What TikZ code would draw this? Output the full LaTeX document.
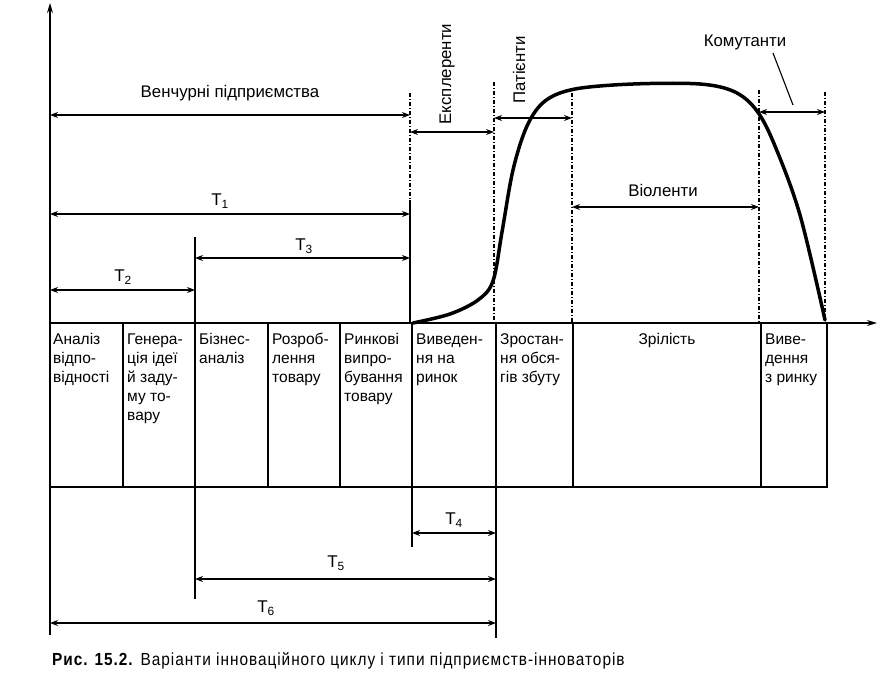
\documentclass[tikz,border=0pt]{standalone}
\usepackage{fontspec}
\setmainfont{Liberation Sans}
\newfontfamily\capfont[FakeStretch=0.88,LetterSpace=5.5]{Liberation Sans}
\usetikzlibrary{arrows.meta}
\newcommand{\fl}{\rule{0pt}{13pt}}
\begin{document}
\begin{tikzpicture}[x=1pt,y=-1pt,
  ln/.style={line width=1.2pt},
  dd/.style={line width=1.1pt, dash pattern=on 4pt off 2pt on 1pt off 2pt},
  dim/.style={line width=1.1pt, {Stealth[length=8pt,width=6pt]}-{Stealth[length=8pt,width=6pt]}},
  cell/.style={anchor=north west, align=left, inner sep=0pt, font=\fontsize{15.5}{19}\selectfont},
  lab/.style={inner sep=0pt, font=\fontsize{16.8}{19}\selectfont},
  tlab/.style={inner sep=0pt, font=\fontsize{17}{19}\selectfont},
  curve/.style={line width=3.5pt, line cap=round, line join=round}]
\useasboundingbox (0,0) rectangle (888,691);
\fill[white] (0,0) rectangle (888,691);

% key coordinates
\coordinate (ytop) at (50,3);
\coordinate (ybot) at (50,635);
\coordinate (xend) at (877,323);
\coordinate (o) at (50,323);

% axes
\draw[line width=1.4pt,-{Stealth[length=10pt,width=6pt]}] (ybot) -- (ytop);
\draw[line width=1.4pt,-{Stealth[length=10pt,width=6pt]}] (o) -- (xend);

% table
\draw[ln] (50,323) rectangle (827,487);
\foreach \xx in {123,195,268,340,412,496,573,761}
  \draw[ln] (\xx,323) -- (\xx,487);

% cell texts
\node[cell] (c1) at (53,331) {\fl Аналіз\\відпо-\\відності};
\node[cell] (c2) at (127,331) {\fl Генера-\\ція ідеї\\й заду-\\му то-\\вару};
\node[cell] (c3) at (199,331) {\fl Бізнес-\\аналіз};
\node[cell] (c4) at (272,331) {\fl Розроб-\\лення\\товару};
\node[cell] (c5) at (344,331) {\fl Ринкові\\випро-\\бування\\товару};
\node[cell] (c6) at (416,331) {\fl Виведен-\\ня на\\ринок};
\node[cell] (c7) at (500,331) {\fl Зростан-\\ня обся-\\гів збуту};
\node[cell,anchor=north] (c8) at (667,331) {\fl Зрілість};
\node[cell] (c9) at (765,331) {\fl Виве-\\дення\\з ринку};

% upper verticals
\coordinate (v1t) at (410,93);
\coordinate (v1m) at (410,200);
\coordinate (v1b) at (410,323);
\draw[dd] (v1t) -- (v1m);
\draw[ln] (v1m) -- (v1b);
\coordinate (v2t) at (494,82);
\coordinate (v2b) at (494,323);
\draw[dd] (v2t) -- (v2b);
\coordinate (v3t) at (572,93);
\coordinate (v3b) at (572,323);
\draw[dd] (v3t) -- (v3b);
\coordinate (v4t) at (759,90);
\coordinate (v4b) at (759,323);
\draw[dd] (v4t) -- (v4b);
\coordinate (v5t) at (825,92);
\coordinate (v5b) at (825,323);
\draw[dd] (v5t) -- (v5b);
\coordinate (vbt) at (195,237);
\coordinate (vbb) at (195,323);
\draw[ln] (vbt) -- (vbb);

% lower verticals
\coordinate (l1) at (195,599);
\coordinate (l2) at (412,547);
\coordinate (l3) at (496,638);
\draw[ln] (195,487) -- (l1);
\draw[ln] (412,487) -- (l2);
\draw[ln] (496,487) -- (l3);

% upper dimension arrows
\draw[dim] (50,115) -- (410,115);
\node[lab] (ven) at (230,93) {Венчурні підприємства};
\draw[dim] (50,214) -- (410,214);
\node[tlab] (t1) at (220,201) {T\textsubscript{1}};
\draw[dim] (195,258) -- (410,258);
\node[tlab] (t3) at (304,246) {T\textsubscript{3}};
\draw[dim] (50,290) -- (195,290);
\node[tlab] (t2) at (123,277) {T\textsubscript{2}};

\draw[dim] (410,132) -- (494,132);
\node[lab,rotate=90] (exp) at (447,74) {Експлеренти};
\draw[dim] (494,118) -- (572,118);
\node[lab,rotate=90] (pat) at (519,70) {Патієнти};
\draw[dim] (572,207) -- (759,207);
\node[lab] (vio) at (663,190) {Віоленти};
\draw[dim] (759,112) -- (825,112);
\node[lab] (kom) at (745,42) {Комутанти};
\coordinate (komend) at (793,105);
\draw[line width=1.1pt] (773,53) -- (komend);

% lower dimension arrows
\draw[dim] (412,533) -- (496,533);
\node[tlab] (t4) at (454,520) {T\textsubscript{4}};
\draw[dim] (195,579) -- (496,579);
\node[tlab] (t5) at (336,563) {T\textsubscript{5}};
\draw[dim] (50,623) -- (496,623);
\node[tlab] (t6) at (266,608) {T\textsubscript{6}};

% life cycle curve
\draw[curve] plot[smooth, tension=0.55] coordinates {(413,323) (450,314) (478,300) (493,281) (502,232) (513,170) (527,126) (545,101) (575,89) (633,84) (700,84) (735,92) (757,111) (775,146) (800,215) (825,320)};

% caption
\node[anchor=base west, inner sep=0pt, font=\capfont\fontsize{17.5}{20}\selectfont] (cap) at (52,665)
  {\textbf{Рис. 15.2.} Варіанти інноваційного циклу і типи підприємств-інноваторів};
\end{tikzpicture}
\end{document}
